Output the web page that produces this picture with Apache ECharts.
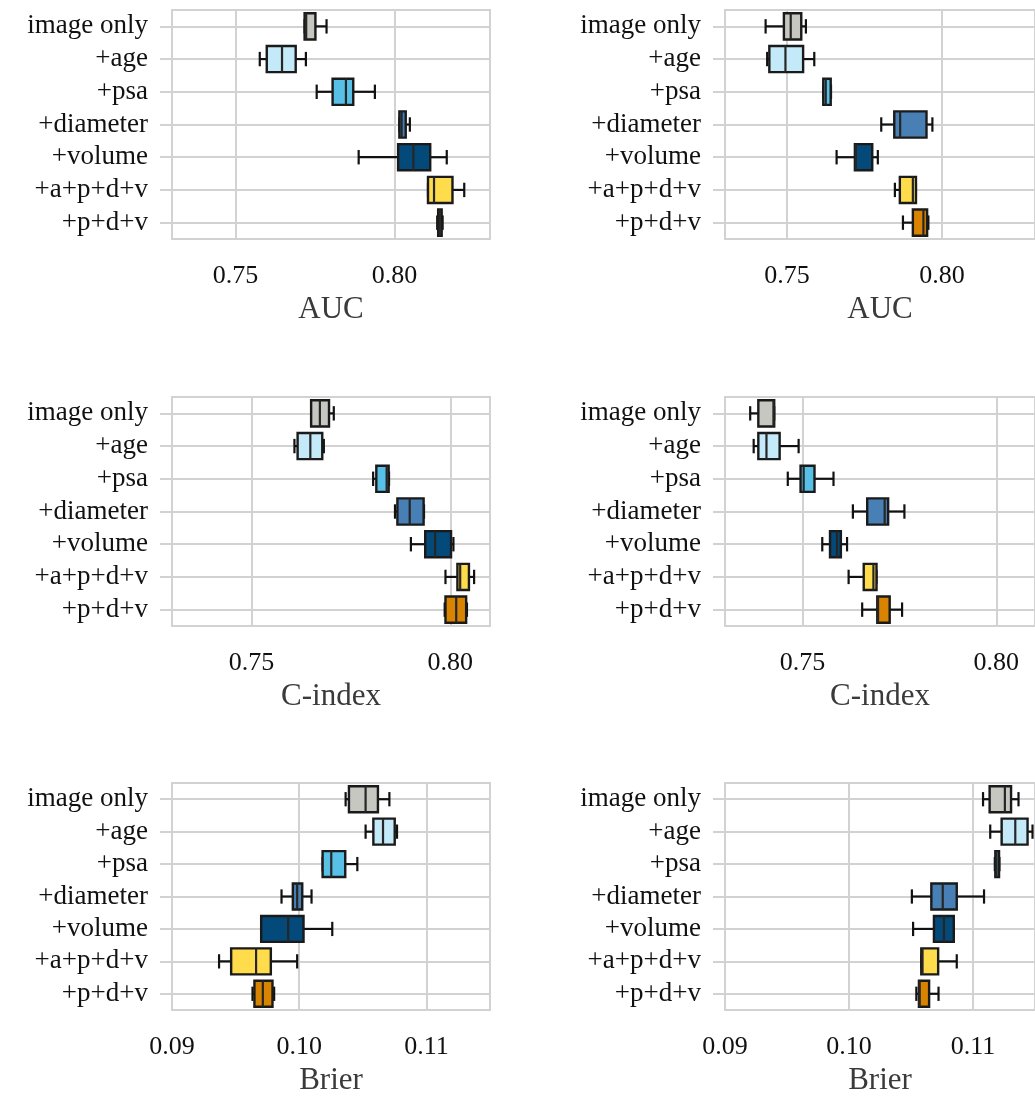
<!DOCTYPE html>
<html>
<head>
<meta charset="utf-8">
<script src="https://cdn.jsdelivr.net/npm/echarts@6/dist/echarts.min.js"></script>
<style>
  html, body { margin: 0; padding: 0; background: #fff; }
  #main { width: 1035px; height: 1097px; }
</style>
</head>
<body>
<div id="main"></div>
<script>
// model names, top to bottom
var models = ['image only', '+age', '+psa', '+diameter', '+volume', '+a+p+d+v', '+p+d+v'];
var palette = ['#c6c7c1', '#c4e9f8', '#58c0e6', '#4880b5', '#03497a', '#ffdc4c', '#d98400'];

// [whisker low, q1, median, q3, whisker high]
var aucLeft = [
  [0.7717, 0.7717, 0.7722, 0.7751, 0.7786],
  [0.7576, 0.7598, 0.7646, 0.7689, 0.7721],
  [0.7755, 0.7805, 0.7847, 0.7870, 0.7938],
  [0.8015, 0.8015, 0.8022, 0.8035, 0.8048],
  [0.7887, 0.8011, 0.8059, 0.8112, 0.8164],
  [0.8105, 0.8105, 0.8124, 0.8182, 0.8219],
  [0.8134, 0.8137, 0.8142, 0.8148, 0.8151]
];
var aucRight = [
  [0.7431, 0.7490, 0.7512, 0.7546, 0.7561],
  [0.7436, 0.7443, 0.7495, 0.7552, 0.7588],
  [0.7617, 0.7617, 0.7625, 0.7641, 0.7642],
  [0.7804, 0.7846, 0.7865, 0.7950, 0.7969],
  [0.7660, 0.7719, 0.7722, 0.7775, 0.7793],
  [0.7848, 0.7864, 0.7906, 0.7916, 0.7916],
  [0.7874, 0.7906, 0.7940, 0.7952, 0.7956]
];
var cindexLeft = [
  [0.7650, 0.7650, 0.7672, 0.7695, 0.7707],
  [0.7608, 0.7616, 0.7648, 0.7678, 0.7682],
  [0.7806, 0.7814, 0.7840, 0.7845, 0.7846],
  [0.7861, 0.7867, 0.7898, 0.7933, 0.7934],
  [0.7901, 0.7937, 0.7962, 0.8002, 0.8008],
  [0.7988, 0.8018, 0.8025, 0.8047, 0.8060],
  [0.7986, 0.7988, 0.8015, 0.8040, 0.8042]
];
var cindexRight = [
  [0.7365, 0.7386, 0.7425, 0.7427, 0.7427],
  [0.7374, 0.7386, 0.7407, 0.7441, 0.7490],
  [0.7462, 0.7495, 0.7503, 0.7531, 0.7580],
  [0.7630, 0.7667, 0.7712, 0.7721, 0.7763],
  [0.7551, 0.7571, 0.7589, 0.7599, 0.7615],
  [0.7619, 0.7658, 0.7683, 0.7691, 0.7691],
  [0.7654, 0.7693, 0.7695, 0.7725, 0.7757]
];
var brierLeft = [
  [0.10365, 0.10391, 0.10522, 0.10619, 0.10709],
  [0.10522, 0.10583, 0.10659, 0.10751, 0.10769],
  [0.10184, 0.10184, 0.10252, 0.10362, 0.10457],
  [0.09861, 0.09950, 0.09984, 0.10024, 0.10097],
  [0.09701, 0.09701, 0.09913, 0.10034, 0.10260],
  [0.09370, 0.09465, 0.09661, 0.09777, 0.09984],
  [0.09633, 0.09648, 0.09714, 0.09790, 0.09803]
];
var brierRight = [
  [0.11081, 0.11134, 0.11257, 0.11307, 0.11367],
  [0.11139, 0.11231, 0.11341, 0.11440, 0.11480],
  [0.11176, 0.11180, 0.11190, 0.11210, 0.11213],
  [0.10507, 0.10664, 0.10756, 0.10869, 0.11089],
  [0.10517, 0.10685, 0.10766, 0.10845, 0.10845],
  [0.10583, 0.10583, 0.10593, 0.10719, 0.10869],
  [0.10543, 0.10564, 0.10570, 0.10646, 0.10722]
];

var aucTicks = [0.75, 0.80];
var brierTicks = [0.09, 0.10, 0.11];

var font = 'Liberation Serif';
var gridColor = '#d2d2d2';

// panel setup
var panels = [
  { data: aucLeft,     name: 'AUC',     min: 0.73, max: 0.83,  ticks: aucTicks,   left: 172, top: 10 },
  { data: aucRight,    name: 'AUC',     min: 0.73, max: 0.83,  ticks: aucTicks,   left: 725, top: 10 },
  { data: cindexLeft,  name: 'C-index', min: 0.73, max: 0.81,  ticks: aucTicks,   left: 172, top: 397 },
  { data: cindexRight, name: 'C-index', min: 0.73, max: 0.81,  ticks: aucTicks,   left: 725, top: 397 },
  { data: brierLeft,   name: 'Brier',   min: 0.09, max: 0.115, ticks: brierTicks, left: 172, top: 783 },
  { data: brierRight,  name: 'Brier',   min: 0.09, max: 0.115, ticks: brierTicks, left: 725, top: 783 }
];

var rowIdx = models.map(function (m, i) { return i; });

function renderBox(params, api) {
  var y = api.value(0);
  var p = [1, 2, 3, 4, 5].map(function (d) { return api.coord([api.value(d), y]); });
  var band = Math.abs(api.size([0, 1])[1]);
  var bh = band * 0.8, ch = band * 0.44;
  var cy = p[2][1];
  var ls = { stroke: '#111', lineWidth: 2.2 };
  return {
    type: 'group',
    children: [
      { type: 'line', shape: { x1: p[0][0], y1: cy, x2: p[1][0], y2: cy }, style: ls },
      { type: 'line', shape: { x1: p[3][0], y1: cy, x2: p[4][0], y2: cy }, style: ls },
      { type: 'line', shape: { x1: p[0][0], y1: cy - ch / 2, x2: p[0][0], y2: cy + ch / 2 }, style: ls },
      { type: 'line', shape: { x1: p[4][0], y1: cy - ch / 2, x2: p[4][0], y2: cy + ch / 2 }, style: ls },
      { type: 'rect', shape: { x: p[1][0], y: cy - bh / 2, width: p[3][0] - p[1][0], height: bh },
        style: { fill: palette[params.dataIndex], stroke: '#1a1a1a', lineWidth: 2.4 } },
      { type: 'line', shape: { x1: p[2][0], y1: cy - bh / 2, x2: p[2][0], y2: cy + bh / 2 },
        style: { stroke: '#262626', lineWidth: 2.2 } }
    ]
  };
}

var grids = [], xAxes = [], yAxes = [], series = [];
panels.forEach(function (pn, k) {
  grids.push({ left: pn.left, top: pn.top, width: 318, height: 229, show: true,
    borderColor: gridColor, borderWidth: 2, backgroundColor: '#fff' });
  xAxes.push({
    type: 'value', gridIndex: k, min: pn.min, max: pn.max,
    name: pn.name, nameLocation: 'middle', nameGap: 55,
    nameTextStyle: { fontFamily: font, fontSize: 31, color: '#3a3a3a' },
    axisLine: { show: false },
    axisTick: { show: true, length: 12, customValues: pn.ticks, lineStyle: { color: gridColor, width: 2 } },
    axisLabel: { customValues: pn.ticks, margin: 24, fontFamily: font, fontSize: 26, color: '#111',
      formatter: function (v) { return v.toFixed(2); } },
    splitLine: { show: true, lineStyle: { color: gridColor, width: 2 } }
  });
  yAxes.push({
    type: 'value', gridIndex: k, min: -0.5, max: 6.5, inverse: true,
    axisLine: { show: false },
    axisTick: { show: true, length: 12, customValues: rowIdx, lineStyle: { color: gridColor, width: 2 } },
    axisLabel: { customValues: rowIdx, margin: 24, fontFamily: font, fontSize: 27, color: '#111',
      formatter: function (v) { return models[Math.round(v)]; } },
    splitLine: { show: true, lineStyle: { color: gridColor, width: 2 } }
  });
  series.push({
    type: 'custom', xAxisIndex: k, yAxisIndex: k,
    renderItem: renderBox,
    encode: { x: [1, 2, 3, 4, 5], y: 0 },
    data: pn.data.map(function (s, i) { return [i].concat(s); }),
    clip: false,
    silent: true
  });
});

var chart = echarts.init(document.getElementById('main'), null, { renderer: 'canvas' });
chart.setOption({
  animation: false,
  backgroundColor: '#fff',
  grid: grids,
  xAxis: xAxes,
  yAxis: yAxes,
  series: series
});
</script>
</body>
</html>
